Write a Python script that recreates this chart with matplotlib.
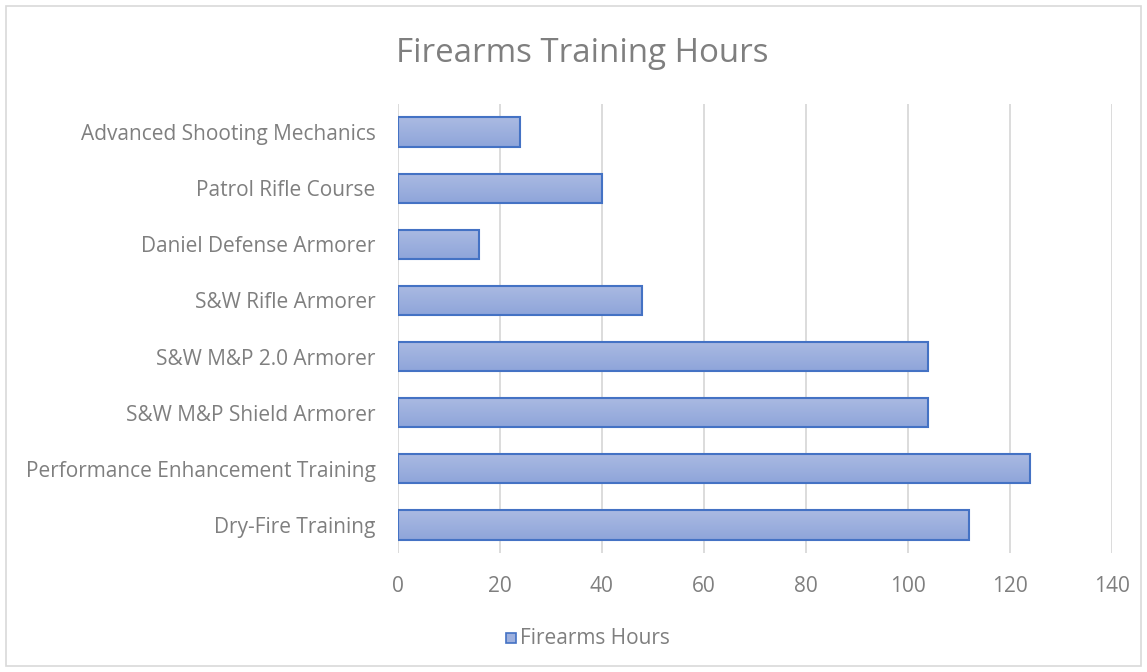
import matplotlib
matplotlib.use("Agg")
import matplotlib.pyplot as plt
import numpy as np
from matplotlib.patches import Rectangle
from matplotlib.colors import LinearSegmentedColormap

categories = ["Dry-Fire Training", "Performance Enhancement Training",
              "S&W M&P Shield Armorer", "S&W M&P 2.0 Armorer",
              "S&W Rifle Armorer", "Daniel Defense Armorer",
              "Patrol Rifle Course", "Advanced Shooting Mechanics"]
hours = [112, 124, 104, 104, 48, 16, 40, 24]
xticks = [0, 20, 40, 60, 80, 100, 120, 140]

TXT = "#7F7F7F"
EDGE = "#4472C4"
grad = LinearSegmentedColormap.from_list("g", ["#8EA5DA", "#ABBAE2"])

plt.rcParams["font.family"] = ["Open Sans", "DejaVu Sans"]

fig = plt.figure(figsize=(11.47, 6.72), dpi=100)
fig.patches.append(Rectangle((6 / 1147, 6 / 672), 1 - 12 / 1147, 1 - 12 / 672,
                             transform=fig.transFigure, fill=False,
                             edgecolor="#D9D9D9", linewidth=1.2))
ax = fig.add_axes([0.3467, 0.1771, 0.6225, 0.6681])

y = np.arange(len(categories))
h = 0.52
bars = ax.barh(y, hours, height=h, color="none", edgecolor=EDGE, linewidth=1.5, zorder=3)
# vertical gradient fill, clipped to each bar
g = np.linspace(0, 1, 64).reshape(-1, 1)
for b in bars:
    x0, y0 = b.get_x(), b.get_y()
    im = ax.imshow(g, cmap=grad, aspect="auto", origin="lower",
                   extent=[x0, x0 + b.get_width(), y0, y0 + b.get_height()], zorder=2)
    im.set_clip_path(b)

ax.set_xlim(0, 140)
ax.set_ylim(-0.5, len(categories) - 0.5)
ax.set_xticks(xticks)
ax.set_yticks(y)
ax.set_yticklabels(categories)
ax.grid(axis="x", color="#D9D9D9", linewidth=1.3, zorder=0)
for s in ax.spines.values():
    s.set_visible(False)
ax.tick_params(length=0, labelsize=15, colors=TXT)
ax.tick_params(axis="y", pad=16)
ax.tick_params(axis="x", pad=16.5)

fig.text(0.508, 0.921, "Firearms Training Hours", ha="center", va="center",
         fontsize=23.8, color=TXT)

fig.patches.append(Rectangle((506 / 1147, 1 - 643 / 672), 10 / 1147, 10 / 672,
                             transform=fig.transFigure, facecolor="#9DB0DE",
                             edgecolor=EDGE, linewidth=1.2))
fig.text(520 / 1147, 1 - 639 / 672, "Firearms Hours", ha="left", va="center",
         fontsize=15, color=TXT)

fig.savefig("out.png", dpi=100)
